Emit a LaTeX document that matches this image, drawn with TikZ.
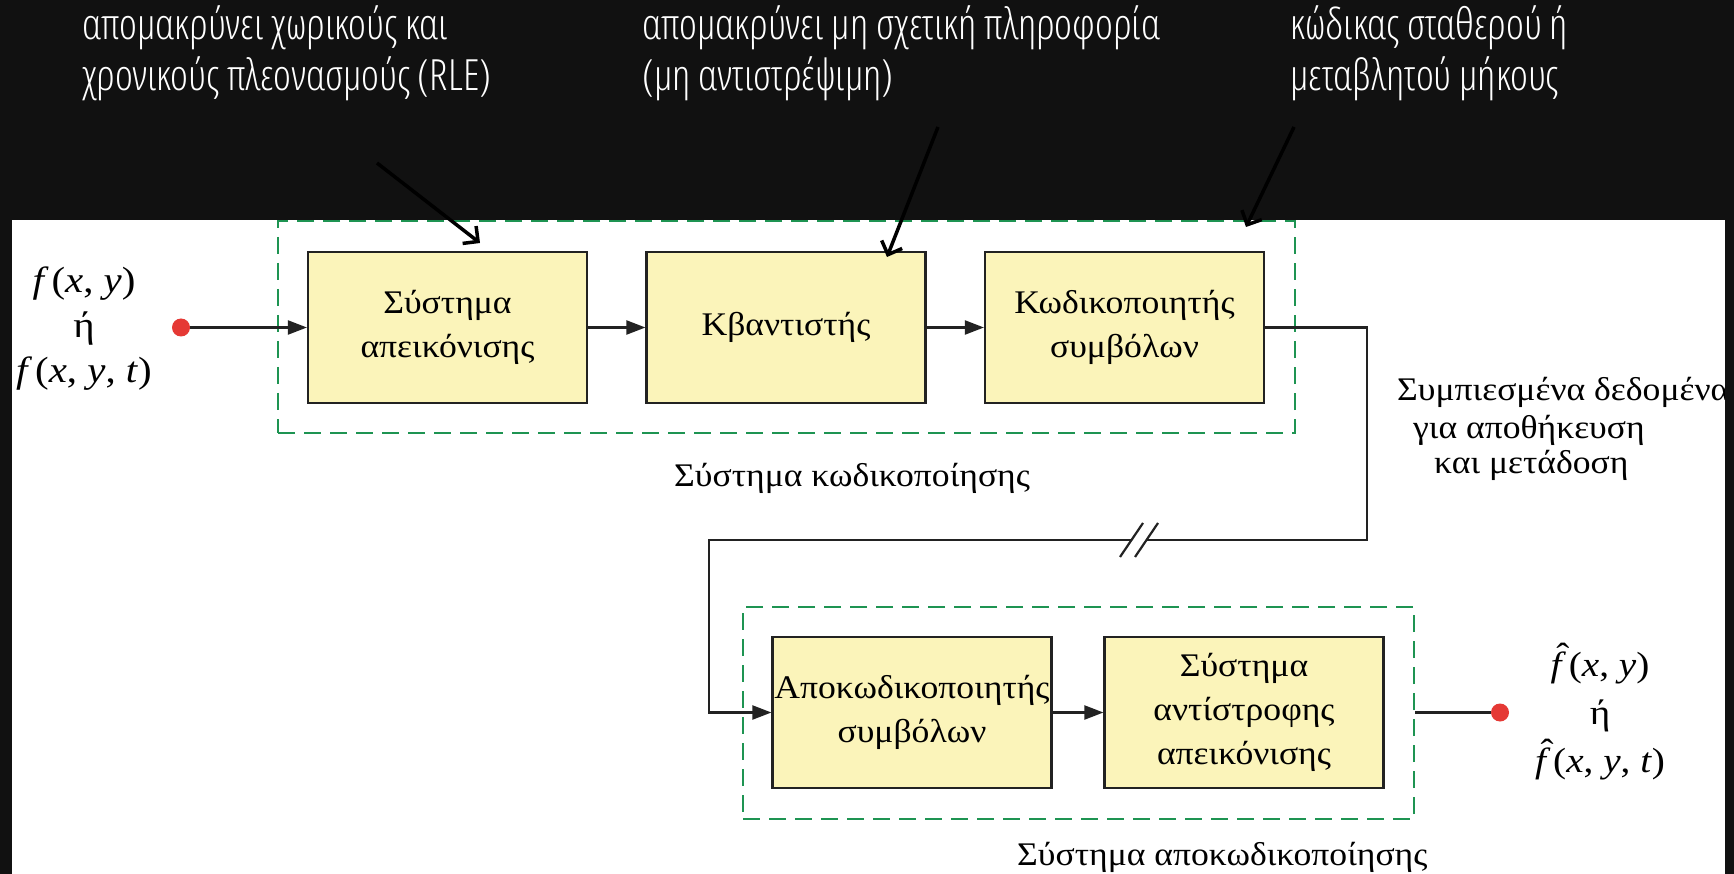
\documentclass[tikz,border=0pt]{standalone}
\usepackage{fontspec}
\setmainfont{Liberation Serif}
\newfontfamily\dfont[FakeStretch=1.08]{Liberation Serif}
\newfontfamily\mfont[FakeStretch=1.12]{Liberation Serif}
\IfFontExistsTF{Open Sans Condensed Light}
  {\newfontfamily\annfont{Open Sans Condensed Light}}
  {\newfontfamily\annfont[FakeStretch=0.8]{Open Sans}}
\usetikzlibrary{arrows.meta}
\definecolor{bg}{HTML}{111111}
\definecolor{boxfill}{HTML}{FBF4BA}
\definecolor{dashgreen}{HTML}{1E9452}
\definecolor{dotred}{HTML}{E53935}
\definecolor{linegray}{HTML}{222222}
\newcommand\fhat{\makebox[0pt][l]{\hspace{0.16em}\raisebox{0.26em}{\char"02C6}}\textit{f}}
\newcommand\fv{\textit{f}\kern0.08em}
\begin{document}
\begin{tikzpicture}[x=1pt,y=-1pt,
  blk/.style={draw=linegray, line width=2.2pt, fill=boxfill, minimum width=279pt,
    minimum height=151pt, align=center, inner sep=0pt,
    font=\dfont\fontsize{33}{44}\selectfont},
  grp/.style={draw=dashgreen, line width=2.6pt, dash pattern=on 17pt off 9pt,
    inner sep=0pt},
  conn/.style={draw=linegray, line width=2.2pt},
  arr/.style={conn, -{Triangle[length=19pt,width=14pt]}},
  dot/.style={circle, fill=dotred, inner sep=0pt, minimum size=18pt},
  lbl/.style={font=\dfont\fontsize{33}{44}\selectfont, inner sep=0pt},
  mlbl/.style={font=\mfont\fontsize{36.5}{45}\selectfont, inner sep=0pt, align=center},
  ann/.style={text=white, font=\annfont\fontsize{43}{50}\selectfont, anchor=base west, inner sep=0pt},
  callout/.style={draw=black, line width=3.5pt, -{Straight Barb[length=11pt,width=22pt]}}
]
\useasboundingbox (0,0) rectangle (1734,874);
\fill[bg] (0,0) rectangle (1734,874);
\fill[white] (12,220) rectangle (1725,874);

% groups
\node[grp, minimum width=1017pt, minimum height=212pt] (g1) at (786.5,327) {};
\node[grp, minimum width=671pt, minimum height=212pt] (g2) at (1078.5,713) {};

% blocks
\node[blk] (k1) at (447.5,327.5) {Σύστημα\\απεικόνισης};
\node[blk] (k2) at (786,327.5) {Κβαντιστής};
\node[blk] (k3) at (1124.5,327.5) {Κωδικοποιητής\\συμβόλων};
\node[blk] (k4) at (912,712.5) {Αποκωδικοποιητής\\συμβόλων};
\node[blk] (k5) at (1244,712.5) {Σύστημα\\αντίστροφης\\απεικόνισης};

% input / output
\node[dot] (indot) at (181,327.5) {};
\node[dot] (outdot) at (1500,712.5) {};
\node[mlbl] (inlbl) at (84,329)
  {\fv(\textit{x}, \textit{y})\\ή\\\fv(\textit{x}, \textit{y}, \textit{t})};
\node[mlbl, font=\mfont\fontsize{35}{48}\selectfont] (outlbl) at (1600,712)
  {\fhat\kern0.08em(\textit{x}, \textit{y})\\ή\\\fhat\kern0.08em(\textit{x}, \textit{y}, \textit{t})};

\draw[arr] (indot) -- (k1.west);
\draw[arr] (k1) -- (k2);
\draw[arr] (k2) -- (k3);
\draw[arr] (k4) -- (k5);
\draw[conn] (g2.east |- outdot) -- (outdot);

% link coder -> decoder with break
\coordinate (bR) at (1367,327.5);
\coordinate (bB) at (1367,540);
\coordinate (brkR) at (1147,540);
\coordinate (brkL) at (1131,540);
\coordinate (lL) at (709,540);
\draw[conn] (k3.east) -- (bR) -- (bB) -- (brkR);
\draw[arr] (brkL) -- (lL) |- (k4.west);
\draw[conn] (1120,557) -- (1143,523);
\draw[conn] (1135,557) -- (1158,523);

% captions
\node[lbl, anchor=base west] (cap1) at (674,486) {Σύστημα κωδικοποίησης};
\node[lbl, anchor=base west] (cap2) at (1017,865) {Σύστημα αποκωδικοποίησης};
\node[lbl, anchor=base west] (cd1) at (1397,400) {Συμπιεσμένα δεδομένα};
\node[lbl, anchor=base west] (cd2) at (1413,438) {για αποθήκευση};
\node[lbl, anchor=base west] (cd3) at (1434,473) {και μετάδοση};

% right dark strip clips the white area
\fill[bg] (1725,0) rectangle (1734,874);

% annotations on the dark band
\node[ann] (a1) at (82,40) {απομακρύνει χωρικούς και};
\node[ann] (a1b) at (82,91) {χρονικούς πλεονασμούς (RLE)};
\node[ann] (a2) at (642,40) {απομακρύνει μη σχετική πληροφορία};
\node[ann] (a2b) at (642,91) {(μη αντιστρέψιμη)};
\node[ann] (a3) at (1290,40) {κώδικας σταθερού ή};
\node[ann] (a3b) at (1290,91) {μεταβλητού μήκους};

\coordinate (c1s) at (377,163);
\coordinate (c1e) at (480,243);
\coordinate (c2s) at (938,127);
\coordinate (c2e) at (887,257);
\coordinate (c3s) at (1294,127);
\coordinate (c3e) at (1246,227);
\draw[callout] (c1s) -- (c1e);
\draw[callout] (c2s) -- (c2e);
\draw[callout] (c3s) -- (c3e);
\end{tikzpicture}
\end{document}
